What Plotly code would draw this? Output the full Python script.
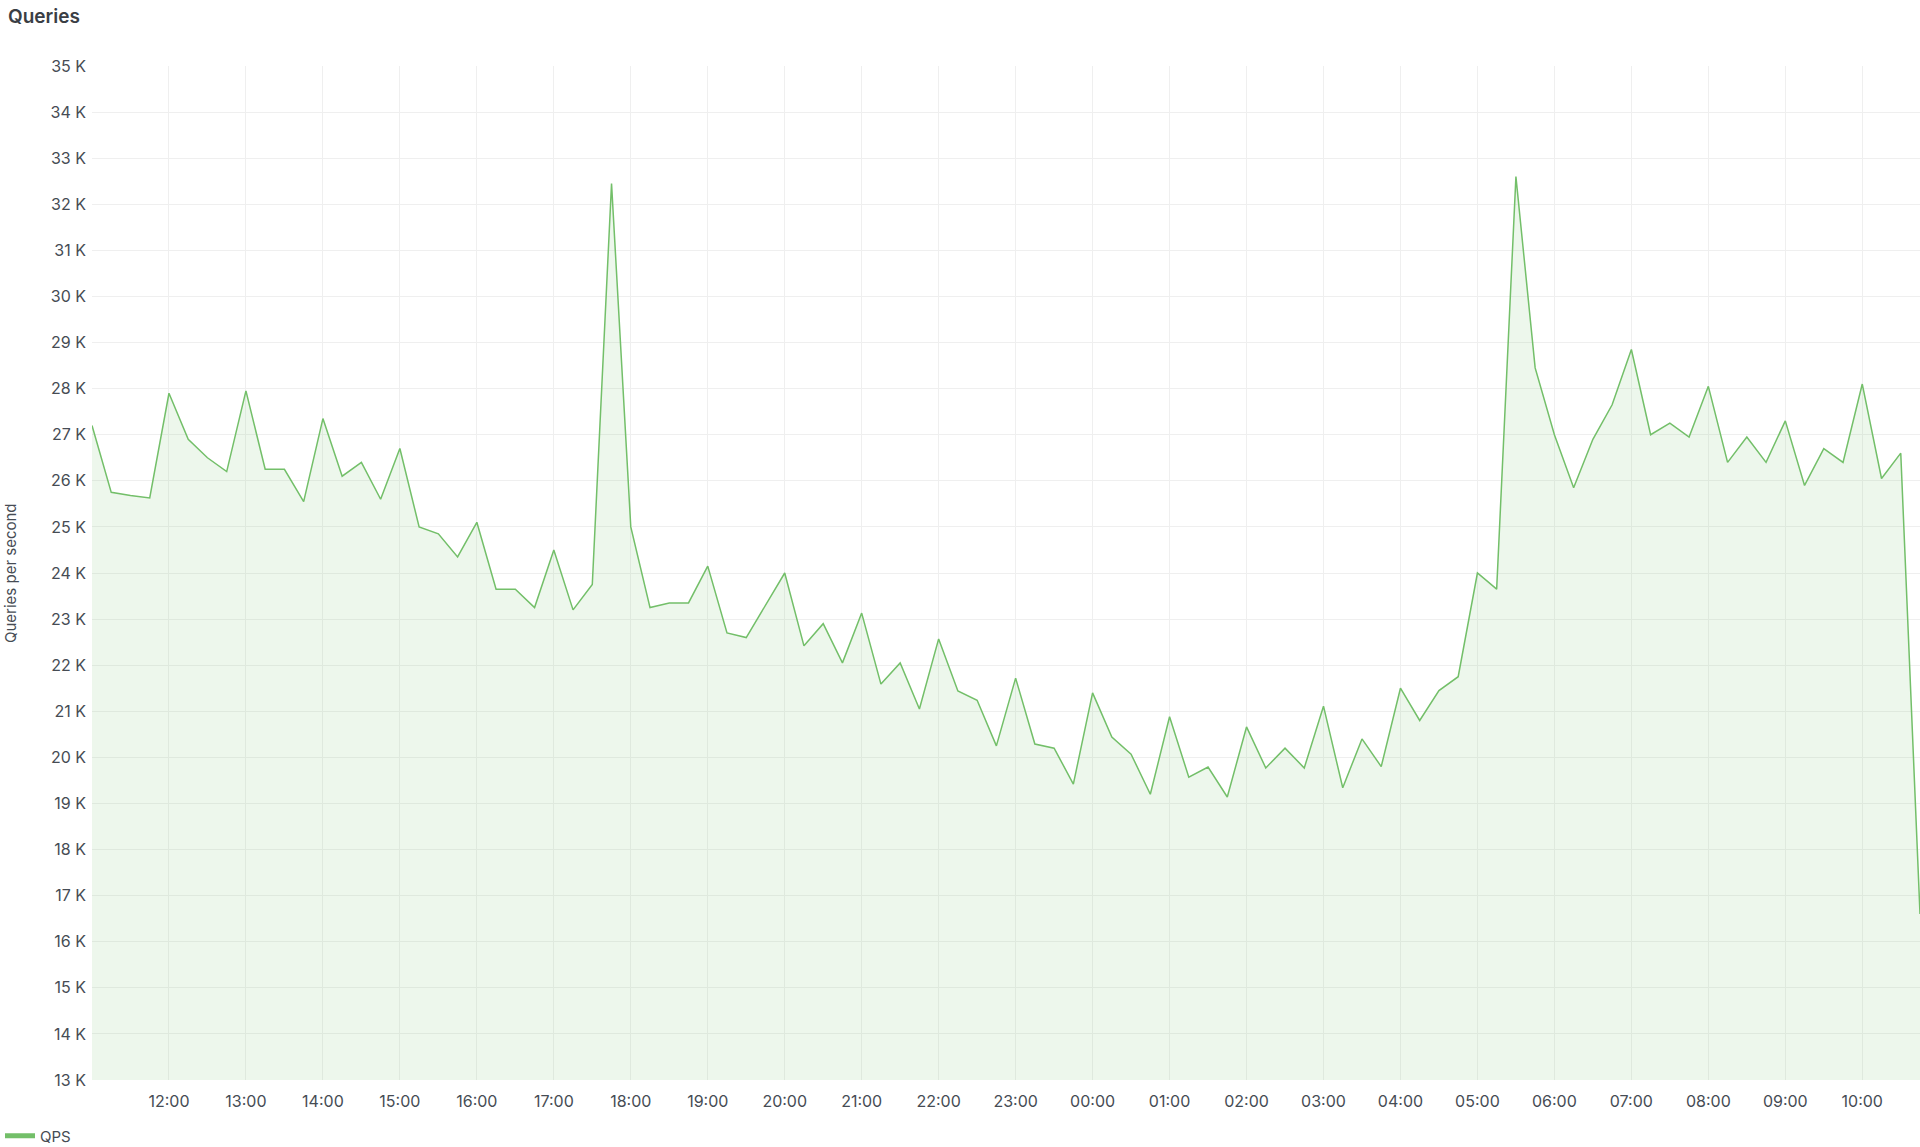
import pandas as pd
import plotly.graph_objects as go

# ---- data ----
start_time = "2024-01-01 11:00"
interval = "15min"
qps = [
    27200, 25750, 25680, 25630,
    27900, 26900, 26500, 26200,
    27950, 26250, 26250, 25550,
    27350, 26100, 26400, 25600,
    26700, 25000, 24850, 24350,
    25100, 23650, 23650, 23250,
    24500, 23200, 23750, 32450,
    25000, 23250, 23350, 23350,
    24150, 22700, 22600, 23300,
    24000, 22420, 22900, 22050,
    23130, 21590, 22050, 21050,
    22570, 21440, 21240, 20250,
    21720, 20290, 20200, 19420,
    21400, 20440, 20070, 19200,
    20880, 19570, 19790, 19140,
    20660, 19770, 20200, 19770,
    21110, 19340, 20400, 19800,
    21500, 20800, 21450, 21750,
    24000, 23650, 32600, 28450,
    27000, 25850, 26900, 27650,
    28850, 27000, 27250, 26950,
    28050, 26400, 26950, 26400,
    27300, 25900, 26700, 26400,
    28100, 26050, 26600, 16600,
]
times = pd.date_range(start_time, periods=len(qps), freq=interval)

x_tick_labels = ["12:00", "13:00", "14:00", "15:00", "16:00", "17:00", "18:00",
                 "19:00", "20:00", "21:00", "22:00", "23:00", "00:00", "01:00",
                 "02:00", "03:00", "04:00", "05:00", "06:00", "07:00", "08:00",
                 "09:00", "10:00"]
x_tick_vals = pd.date_range("2024-01-01 12:00", periods=len(x_tick_labels), freq="1h")

y_tick_vals = list(range(13000, 35001, 1000))
y_tick_labels = [f"{v // 1000} K" for v in y_tick_vals]

series_name = "QPS"
title_text = "Queries"
y_title = "Queries per second"

# ---- styling ----
W, H = 1920, 1147
L, R, T, B = 92, 0, 66, 67
line_color = "#73bf69"
fill_color = "rgba(115,191,105,0.13)"
text_color = "#464c54"
grid_color = "#efefef"
font_family = "Inter, Roboto, Arial, sans-serif"

fig = go.Figure()
fig.add_trace(go.Scatter(
    x=times, y=qps, mode="lines", name=series_name,
    line=dict(color=line_color, width=1.5),
    fill="tozeroy", fillcolor=fill_color,
    showlegend=False, hoverinfo="x+y",
))
# legend entry (thick short dash like the reference)
fig.add_trace(go.Scatter(
    x=[None], y=[None], mode="lines", name=series_name,
    line=dict(color=line_color, width=4), showlegend=True,
))

fig.update_layout(
    width=W, height=H,
    margin=dict(l=L, r=R, t=T, b=B, pad=0),
    paper_bgcolor="white", plot_bgcolor="white",
    font=dict(family=font_family, size=16, color=text_color),
    title=dict(text=title_text, x=8 / W, xref="container", xanchor="left",
               y=1 - 16 / H, yref="container", yanchor="middle",
               font=dict(size=19, color="#3a3e45", weight=600)),
    legend=dict(orientation="h", x=0, xref="container", xanchor="left",
                y=1 - 1136 / H, yref="container", yanchor="middle",
                itemwidth=30, font=dict(size=15, color=text_color),
                bgcolor="rgba(0,0,0,0)", borderwidth=0,
                tracegroupgap=0, itemsizing="constant"),
    xaxis=dict(
        range=[times[0], times[-1]],
        tickvals=x_tick_vals, ticktext=x_tick_labels,
        showgrid=True, gridcolor=grid_color, gridwidth=1,
        zeroline=False, showline=False, ticks="",
        ticklabelstandoff=10, tickfont=dict(size=16, color=text_color),
    ),
    yaxis=dict(
        range=[13000, 35000],
        tickvals=y_tick_vals, ticktext=y_tick_labels,
        showgrid=True, gridcolor=grid_color, gridwidth=1,
        zeroline=False, showline=False, ticks="",
        ticklabelstandoff=5, tickfont=dict(size=16, color=text_color),
    ),
    annotations=[dict(
        text=y_title, textangle=-90, xref="paper", yref="paper",
        x=-(L - 10) / (W - L - R), y=0.5, xanchor="center", yanchor="middle",
        showarrow=False, font=dict(size=15, color=text_color),
    )],
    hovermode="x",
)

fig.write_html("out.html", config={"displayModeBar": False},
               post_script="document.body.style.margin='0';document.body.style.overflow='hidden';")
